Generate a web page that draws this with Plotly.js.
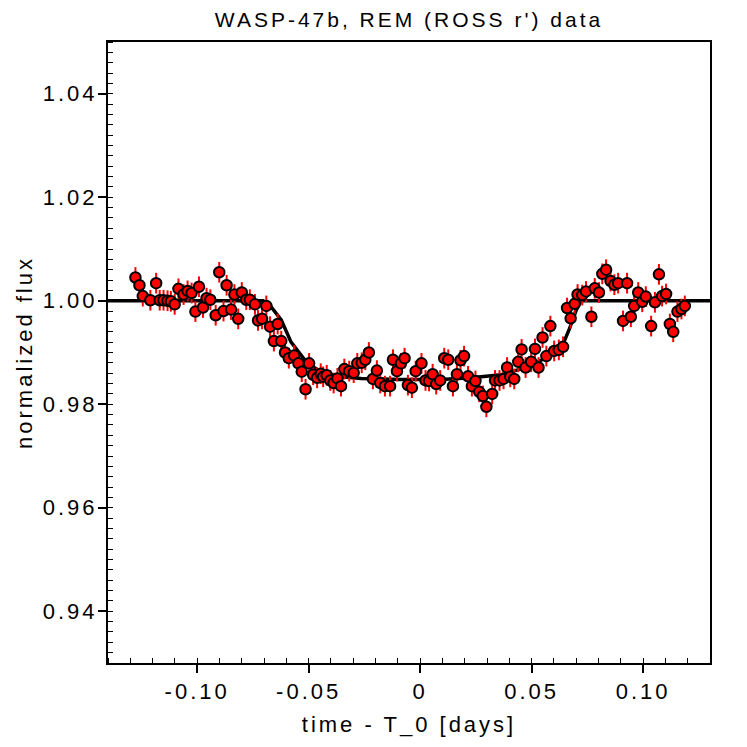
<!DOCTYPE html>
<html>
<head>
<meta charset="utf-8">
<script src="https://cdn.plot.ly/plotly-3.0.1.min.js"></script>
<style>
  html, body { margin: 0; padding: 0; background: #fff; }
  #chart { width: 747px; height: 747px; }
  .main-svg text { letter-spacing: 3px; }
</style>
</head>
<body>
<div id="chart"></div>
<script>
// Observed data (time - T_0 in days, normalized flux)
const time = [
  -0.1277, -0.1259, -0.1244, -0.1210, -0.1184, -0.1168, -0.1151, -0.1133, -0.1118, -0.1101,
  -0.1084, -0.1061, -0.1043, -0.1025, -0.1008, -0.0992, -0.0974, -0.0958, -0.0941, -0.0917,
  -0.0901, -0.0882, -0.0868, -0.0848, -0.0833, -0.0816, -0.0800, -0.0780, -0.0764, -0.0741,
  -0.0727, -0.0709, -0.0690, -0.0673, -0.0656, -0.0639, -0.0623, -0.0606, -0.0589, -0.0565,
  -0.0546, -0.0531, -0.0514, -0.0498, -0.0480, -0.0462, -0.0446, -0.0435, -0.0419, -0.0403,
  -0.0388, -0.0371, -0.0355, -0.0340, -0.0318, -0.0298, -0.0282, -0.0262, -0.0246, -0.0230,
  -0.0212, -0.0194, -0.0179, -0.0158, -0.0135, -0.0122, -0.0104, -0.0086, -0.0070, -0.0055,
  -0.0037, -0.0020, 0.0006, 0.0024, 0.0040, 0.0056, 0.0072, 0.0090, 0.0108, 0.0126,
  0.0147, 0.0165, 0.0181, 0.0197, 0.0215, 0.0232, 0.0248, 0.0265, 0.0281, 0.0297,
  0.0323, 0.0336, 0.0356, 0.0374, 0.0390, 0.0404, 0.0422, 0.0440, 0.0455, 0.0473,
  0.0498, 0.0515, 0.0531, 0.0549, 0.0566, 0.0584, 0.0601, 0.0622, 0.0641, 0.0659,
  0.0675, 0.0693, 0.0706, 0.0727, 0.0744, 0.0768, 0.0783, 0.0802, 0.0817, 0.0834,
  0.0854, 0.0871, 0.0888, 0.0910, 0.0928, 0.0945, 0.0960, 0.0978, 0.0996, 0.1012,
  0.1036, 0.1053, 0.1071, 0.1085, 0.1103, 0.1120, 0.1135, 0.1154, 0.1172, 0.1187
];
const flux = [
  1.0045, 1.0030, 1.0009, 1.0001, 1.0034, 1.0001, 1.0001, 1.0000, 0.9999, 0.9993,
  1.0023, 1.0012, 1.0019, 1.0015, 0.9979, 1.0027, 0.9987, 1.0005, 1.0002, 0.9972,
  1.0055, 0.9980, 1.0030, 0.9983, 1.0012, 0.9965, 1.0016, 1.0002, 1.0002, 0.9993,
  0.9962, 0.9965, 0.9990, 0.9950, 0.9922, 0.9955, 0.9922, 0.9900, 0.9889, 0.9894,
  0.9879, 0.9863, 0.9829, 0.9879, 0.9857, 0.9851, 0.9859, 0.9853, 0.9856, 0.9846,
  0.9841, 0.9850, 0.9835, 0.9868, 0.9864, 0.9861, 0.9879, 0.9880, 0.9886, 0.9900,
  0.9849, 0.9865, 0.9841, 0.9835, 0.9835, 0.9886, 0.9864, 0.9879, 0.9889, 0.9837,
  0.9832, 0.9864, 0.9879, 0.9846, 0.9845, 0.9858, 0.9839, 0.9846, 0.9889, 0.9886,
  0.9835, 0.9858, 0.9885, 0.9893, 0.9854, 0.9835, 0.9845, 0.9824, 0.9816, 0.9795,
  0.9820, 0.9846, 0.9846, 0.9849, 0.9871, 0.9853, 0.9849, 0.9882, 0.9906, 0.9871,
  0.9882, 0.9907, 0.9871, 0.9929, 0.9893, 0.9951, 0.9903, 0.9905, 0.9911, 0.9986,
  0.9966, 0.9994, 1.0012, 1.0011, 1.0018, 0.9969, 1.0024, 1.0016, 1.0052, 1.0060,
  1.0038, 1.0031, 1.0034, 0.9961, 1.0034, 0.9969, 0.9990, 1.0016, 0.9998, 1.0008,
  0.9951, 0.9997, 1.0051, 1.0009, 1.0013, 0.9955, 0.9940, 0.9979, 0.9984, 0.9990
];
const fluxErr = 0.002;

// Best-fit model curve
const modelTime = [-0.14, -0.0704, -0.0668, -0.0623, -0.0579, -0.0511, -0.0444, -0.0377, -0.0265,
  -0.0085, 0.0094, 0.0229, 0.0363, 0.0498, 0.0632, 0.0668, 0.0700, 0.0722, 0.13];
const modelFlux = [1.0000, 1.0000, 0.9988, 0.9963, 0.9920, 0.9882, 0.9862, 0.9854, 0.9850,
  0.9848, 0.9848, 0.9851, 0.9857, 0.9874, 0.9907, 0.9944, 0.9982, 1.0000, 1.0000];

// Tick labels
const xTickVals = [-0.10, -0.05, 0, 0.05, 0.10];
const xTickText = ['-0.10', '-0.05', '0', '0.05', '0.10'];
const yTickVals = [0.94, 0.96, 0.98, 1.00, 1.02, 1.04];
const yTickText = ['0.94', '0.96', '0.98', '1.00', '1.02', '1.04'];

const font = 'Liberation Sans, Arial, Helvetica, sans-serif';

const traces = [
  {
    x: modelTime, y: modelFlux, type: 'scatter', mode: 'lines',
    line: {color: 'black', width: 3.5}, hoverinfo: 'skip', showlegend: false
  },
  {
    x: time, y: flux, type: 'scatter', mode: 'markers',
    marker: {color: '#ff0000', size: 10.5, line: {color: 'black', width: 2}},
    error_y: {type: 'constant', value: fluxErr, color: '#ff0000', thickness: 2, width: 0},
    showlegend: false
  }
];

const layout = {
  width: 747, height: 747,
  margin: {l: 108, r: 37, t: 42, b: 84},
  paper_bgcolor: 'white', plot_bgcolor: 'white',
  font: {family: font, color: 'black'},
  title: {
    text: "WASP-47b, REM (ROSS r') data",
    font: {family: font, size: 21, color: 'black'},
    x: 0.5, xref: 'paper', xanchor: 'center',
    y: 1 - 20 / 747, yref: 'container', yanchor: 'middle'
  },
  xaxis: {
    range: [-0.14, 0.13],
    tickmode: 'array', tickvals: xTickVals, ticktext: xTickText,
    ticks: 'outside', ticklen: 8, tickwidth: 1.5, tickcolor: 'black',
    minor: {tickmode: 'linear', tick0: 0, dtick: 0.01, ticks: 'inside', ticklen: 5, tickwidth: 1, tickcolor: 'black', showgrid: false},
    tickfont: {family: font, size: 22, color: 'black'},
    showline: true, linecolor: 'black', linewidth: 2, mirror: true,
    showgrid: false, zeroline: false,
    title: {text: 'time - T_0 [days]', font: {family: font, size: 22, color: 'black'}, standoff: 13}
  },
  yaxis: {
    range: [0.93, 1.05],
    tickmode: 'array', tickvals: yTickVals, ticktext: yTickText,
    ticks: 'outside', ticklen: 8, tickwidth: 1.5, tickcolor: 'black',
    ticklabelstandoff: -4,
    minor: {tickmode: 'linear', tick0: 0, dtick: 0.002, ticks: 'inside', ticklen: 5, tickwidth: 1, tickcolor: 'black', showgrid: false},
    tickfont: {family: font, size: 22, color: 'black'},
    showline: true, linecolor: 'black', linewidth: 2, mirror: true,
    showgrid: false, zeroline: false,
    title: {text: 'normalized flux', font: {family: font, size: 22, color: 'black'}, standoff: 16}
  }
};

Plotly.newPlot('chart', traces, layout, {displayModeBar: false, responsive: false});
</script>
</body>
</html>
